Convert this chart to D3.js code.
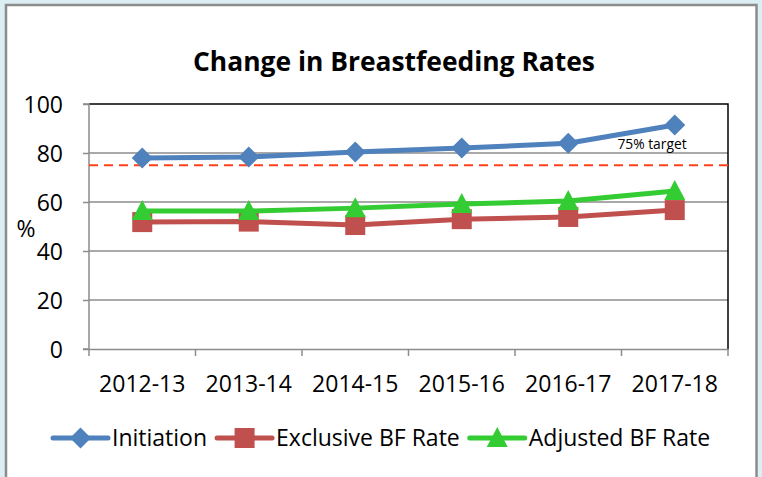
<!DOCTYPE html>
<html><head><meta charset="utf-8">
<script src="https://cdn.jsdelivr.net/npm/d3@7"></script>
<style>body{margin:0;background:#dbeef4;}svg{display:block;}</style>
</head><body>
<script>
const categories = ["2012-13","2013-14","2014-15","2015-16","2016-17","2017-18"];
const initiation = [78.0, 78.4, 80.4, 82.0, 84.0, 91.4];
const exclusive = [51.8, 52.0, 50.6, 53.0, 53.9, 56.7];
const adjusted = [56.3, 56.3, 57.5, 59.2, 60.4, 64.5];
const target = 75;
const yTicks = [0,20,40,60,80,100];
const seriesNames = ["Initiation","Exclusive BF Rate","Adjusted BF Rate"];

const W=762,H=477;
const FONT="'Open Sans', sans-serif";
const svg=d3.select("body").append("svg").attr("width",W).attr("height",H);
svg.append("rect").attr("width",W).attr("height",H).attr("fill","#dbeef4");
svg.append("rect").attr("x",6).attr("y",5).attr("width",750.5).attr("height",H).attr("fill","#fff").attr("stroke","#8c8c8c").attr("stroke-width",2.5);

const L=89,R=728,T=104,B=349;
const x=d3.scaleBand().domain(categories).range([L,R]);
const y=d3.scaleLinear().domain([0,100]).range([B,T]);

// gridlines
svg.append("g").selectAll("line").data(yTicks.filter(d=>d>0&&d<100)).join("line")
 .attr("x1",L).attr("x2",R).attr("y1",d=>y(d)).attr("y2",d=>y(d)).attr("stroke","#8c8c8c").attr("stroke-width",1.5);
svg.append("path").attr("d",`M${L},${T}H${R}V${B}`).attr("fill","none").attr("stroke","#000").attr("stroke-width",1.5);

// y axis
const ya=svg.append("g").attr("transform",`translate(${L},0)`).call(d3.axisLeft(y).tickValues(yTicks).tickSize(6).tickPadding(20));
ya.select(".domain").attr("stroke","#8c8c8c").attr("stroke-width",1.5).attr("d",`M-6,${T}H0V${B}H-6`);
ya.selectAll(".tick line").attr("stroke","#8c8c8c").attr("stroke-width",1.5);
ya.selectAll("text").attr("font-family",FONT).attr("font-size",23).attr("fill","#000").attr("dy","0.36em");

// x axis
const xa=svg.append("g").attr("transform",`translate(0,${B})`).call(d3.axisBottom(x).tickSize(0).tickPadding(27));
xa.select(".domain").attr("stroke","#8c8c8c").attr("stroke-width",1.5);
xa.selectAll("text").attr("font-family",FONT).attr("font-size",23).attr("fill","#000");
const bounds=categories.map(c=>x(c)).concat([R]);
xa.append("g").selectAll("line").data(bounds).join("line").attr("x1",d=>d).attr("x2",d=>d).attr("y1",0).attr("y2",7).attr("stroke","#8c8c8c").attr("stroke-width",1.5);

// y title
svg.append("text").attr("x",26).attr("y",237).attr("text-anchor","middle").attr("font-family",FONT).attr("font-size",23).text("%");

// title
svg.append("text").attr("x",394).attr("y",71).attr("text-anchor","middle").attr("font-family",FONT).attr("font-weight","bold").attr("font-size",26)
  .attr("textLength",402).attr("lengthAdjust","spacingAndGlyphs").text("Change in Breastfeeding Rates");

// target line
svg.append("line").attr("x1",L).attr("x2",R).attr("y1",y(target)).attr("y2",y(target)).attr("stroke","#ff4019").attr("stroke-width",2.2).attr("stroke-dasharray","9,6");
svg.append("text").attr("x",652).attr("y",149).attr("text-anchor","middle").attr("font-family",FONT).attr("font-size",13.8).text("75% target");

const cx=c=>x(c)+x.bandwidth()/2;
const colors=["#4f81bd","#c0504d","#33cc33"];
function marker(g,type,color,px,py){
  if(type===0) g.append("path").attr("d",`M${px},${py-10.5}L${px+10.5},${py}L${px},${py+10.5}L${px-10.5},${py}Z`).attr("fill",color);
  else if(type===1) g.append("rect").attr("x",px-10).attr("y",py-10).attr("width",20).attr("height",20).attr("fill",color);
  else g.append("path").attr("d",`M${px},${py-11}L${px+10.5},${py+9}L${px-10.5},${py+9}Z`).attr("fill",color);
}
const data=[initiation,exclusive,adjusted];
const line=d3.line().x((d,i)=>cx(categories[i])).y(d=>y(d));
[1,2,0].forEach(k=>{
  const g=svg.append("g");
  g.append("path").datum(data[k]).attr("d",line).attr("fill","none").attr("stroke",colors[k]).attr("stroke-width",5).attr("stroke-linejoin","round");
  data[k].forEach((v,i)=>marker(g,k,colors[k],cx(categories[i]),y(v)));
});

// legend
let lx=53;
const ly=438;
seriesNames.forEach((n,k)=>{
  const g=svg.append("g");
  g.append("line").attr("x1",lx).attr("x2",lx+55).attr("y1",ly).attr("y2",ly).attr("stroke",colors[k]).attr("stroke-width",5).attr("stroke-linecap","round");
  marker(g,k,colors[k],lx+27.5,ly);
  const t=g.append("text").attr("x",lx+59).attr("y",ly+8).attr("font-family",FONT).attr("font-size",23).text(n);
  lx=lx+59+t.node().getComputedTextLength()+10;
});
</script>
</body></html>
